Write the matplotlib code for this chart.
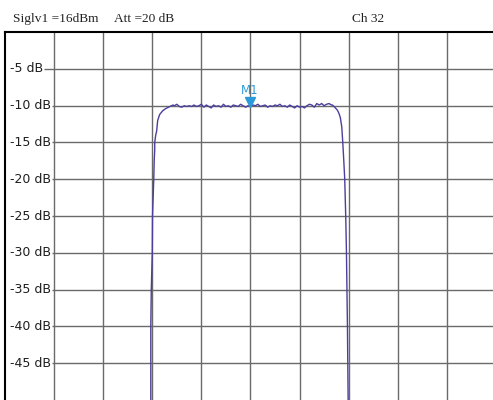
import numpy as np
import matplotlib
matplotlib.use("Agg")
import matplotlib.pyplot as plt

# trace, x in divisions (0..10), y in dB
left_x = [2.97, 2.97, 2.98, 3.00, 3.005, 3.03, 3.04, 3.05, 3.05, 3.07, 3.09, 3.11, 3.15, 3.21, 3.27, 3.33, 3.42]
left_y = [-50.5, -40.0, -35.0, -30.0, -25.0, -20.0, -17.4, -16.0, -15.0, -14.0, -13.4, -12.0, -11.2, -10.7, -10.4, -10.2, -9.9]

top_x = [3.45, 3.50, 3.55, 3.60, 3.65, 3.70, 3.75, 3.80, 3.85, 3.90, 3.95, 4.00, 4.05, 4.10,
         4.15, 4.20, 4.25, 4.30, 4.35, 4.40, 4.45, 4.50, 4.55, 4.60, 4.65, 4.70, 4.75, 4.80,
         4.85, 4.90, 4.95, 5.00, 5.05, 5.10, 5.15, 5.20, 5.25, 5.30, 5.35, 5.40, 5.45, 5.50,
         5.55, 5.60, 5.65, 5.70, 5.75, 5.80, 5.85, 5.90, 5.95, 6.00, 6.05, 6.10, 6.15, 6.20,
         6.25, 6.30, 6.35, 6.40, 6.45, 6.50, 6.55, 6.60, 6.65]
top_y = [-10.0, -9.8, -10.1, -10.2, -10.0, -10.1, -10.0, -10.1, -9.9, -10.1, -10.0, -9.8, -10.2, -9.9,
         -10.1, -10.3, -9.9, -10.1, -10.0, -10.2, -9.8, -10.1, -10.0, -10.2, -9.9, -10.0, -10.1, -9.8,
         -10.0, -10.2, -10.0, -10.1, -9.9, -10.0, -9.8, -10.1, -10.0, -9.9, -10.2, -10.0, -10.1, -9.9,
         -10.0, -9.8, -10.1, -10.0, -10.2, -9.9, -10.1, -10.3, -10.0, -10.2, -10.1, -10.3, -10.0, -9.8,
         -9.9, -10.2, -9.7, -9.9, -9.7, -10.0, -9.8, -9.7, -9.9]

right_x = [6.67, 6.70, 6.73, 6.77, 6.80, 6.83, 6.86, 6.88, 6.90, 6.92, 6.94, 6.955, 6.965, 6.975, 6.99]
right_y = [-9.9, -10.1, -10.3, -10.6, -11.0, -11.6, -12.9, -15.0, -17.4, -20.0, -25.0, -30.0, -35.0, -40.0, -50.5]

db_ticks = [-5, -10, -15, -20, -25, -30, -35, -40, -45]
db_labels = ["-5 dB", "-10 dB", "-15 dB", "-20 dB", "-25 dB", "-30 dB", "-35 dB", "-40 dB", "-45 dB"]
marker_x, marker_y = 5.0, -10.0

trace_x = left_x + top_x + right_x
trace_y = left_y + top_y + right_y

fig = plt.figure(figsize=(4.93, 4.00), dpi=100)
ax = fig.add_axes([0.0101, 0.0006, 0.9959, 0.9188])
ax.set_xlim(0, 10)
ax.set_ylim(-50, 0)

for k in range(1, 10):
    ax.axvline(k, color="#6a6a6a", lw=1.0, zorder=1)

labels = []
for v, lab in zip(db_ticks, db_labels):
    t = ax.text(0.1, v, lab, ha="left", va="center", fontsize=9, color="#1e1e1e",
                family="DejaVu Sans", zorder=2)
    labels.append(t)

# horizontal grid lines start right after each label, like on the screen
fig.canvas.draw()
inv = ax.transData.inverted()
for v, t in zip(db_ticks, labels):
    bb = t.get_window_extent()
    x_end = inv.transform((bb.x1 + 1, bb.y0))[0]
    ax.hlines(v, x_end, 10, color="#6a6a6a", lw=1.0, zorder=1)

ax.plot(trace_x, trace_y, color="#4a3f9c", lw=1.0, zorder=3)

ax.plot([marker_x], [marker_y + 0.55], marker="v", ms=7, color="#2b9ad8", zorder=4)
ax.text(marker_x - 0.02, marker_y + 1.2, "M1", ha="center", va="bottom", fontsize=8.5,
        color="#2b9ad8", family="DejaVu Sans", zorder=4)

ax.set_xticks([])
ax.set_yticks([])
for s in ("right", "bottom"):
    ax.spines[s].set_visible(False)
for s in ("top", "left"):
    ax.spines[s].set_linewidth(1.5)
    ax.spines[s].set_color("black")

fig.text(13 / 493, 0.946, "Siglv1 =16dBm", fontsize=9.6, family="Liberation Serif", color="#222222")
fig.text(114 / 493, 0.946, "Att =20 dB", fontsize=9.6, family="Liberation Serif", color="#222222")
fig.text(352 / 493, 0.946, "Ch 32", fontsize=9.6, family="Liberation Serif", color="#222222")

fig.savefig("out.png", dpi=100)
